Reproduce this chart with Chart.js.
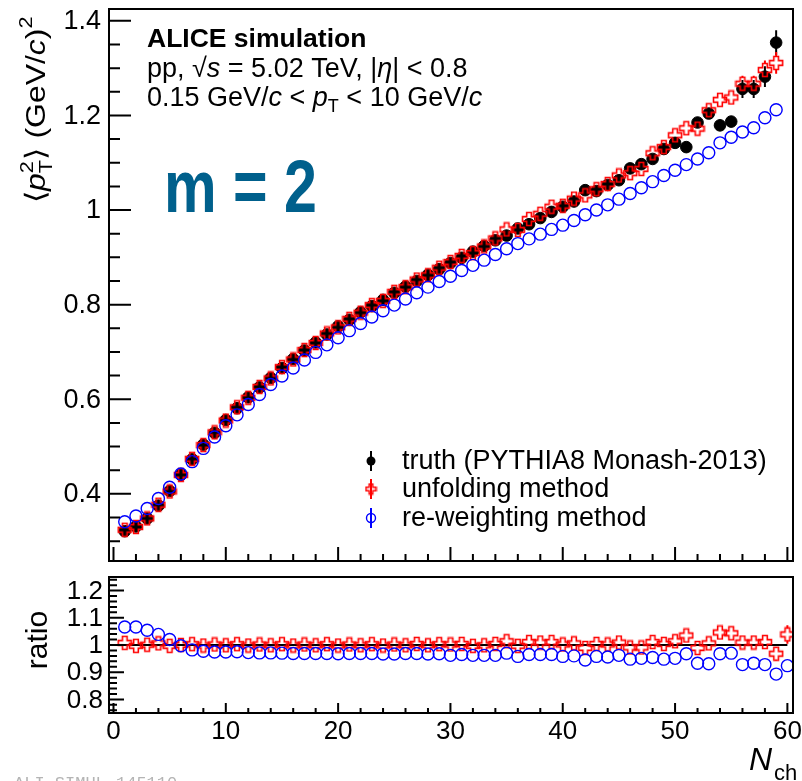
<!DOCTYPE html>
<html>
<head>
<meta charset="utf-8">
<script src="https://cdn.jsdelivr.net/npm/chart.js@4.4.1/dist/chart.umd.min.js"></script>
<style>
    body { margin: 0; background: #fff; }
    #wrap { position: relative; width: 802px; height: 781px; overflow: hidden; background: #fff; }
    #top { position: absolute; left: 0; top: 0; }
    #bot { position: absolute; left: 0; top: 568px; }
</style>
</head>
<body>
<div id="wrap">
    <canvas id="top" width="802" height="570"></canvas>
    <canvas id="bot" width="802" height="213"></canvas>
</div>
<script>
'use strict';

// multiplicity bins
var nch = [1, 2, 3, 4, 5, 6, 7, 8, 9, 10,
    11, 12, 13, 14, 15, 16, 17, 18, 19, 20,
    21, 22, 23, 24, 25, 26, 27, 28, 29, 30,
    31, 32, 33, 34, 35, 36, 37, 38, 39, 40,
    41, 42, 43, 44, 45, 46, 47, 48, 49, 50,
    51, 52, 53, 54, 55, 56, 57, 58, 59, 60];

// <pT^2> per Nch, top panel (bins 1..59)
var truth = [0.321, 0.331, 0.348, 0.375, 0.406, 0.440, 0.473, 0.504, 0.529, 0.556,
    0.581, 0.604, 0.625, 0.645, 0.666, 0.685, 0.703, 0.720, 0.737, 0.754,
    0.768, 0.784, 0.797, 0.810, 0.825, 0.838, 0.850, 0.863, 0.875, 0.888,
    0.899, 0.912, 0.924, 0.936, 0.946, 0.961, 0.970, 0.983, 0.996, 1.007,
    1.018, 1.042, 1.040, 1.053, 1.063, 1.088, 1.097, 1.108, 1.129, 1.142,
    1.133, 1.185, 1.204, 1.179, 1.187, 1.256, 1.256, 1.282, 1.354];
var truthErr = [0.004, 0.004, 0.004, 0.004, 0.004, 0.004, 0.004, 0.004, 0.004, 0.004,
    0.004, 0.004, 0.004, 0.004, 0.004, 0.004, 0.004, 0.004, 0.004, 0.004,
    0.004, 0.004, 0.004, 0.004, 0.004, 0.004, 0.004, 0.004, 0.004, 0.004,
    0.004, 0.004, 0.004, 0.004, 0.004, 0.004, 0.004, 0.004, 0.004, 0.004,
    0.006, 0.006, 0.007, 0.007, 0.007, 0.008, 0.008, 0.008, 0.009, 0.009,
    0.010, 0.010, 0.011, 0.012, 0.012, 0.019, 0.019, 0.022, 0.026];

var unfold = [0.324, 0.330, 0.348, 0.377, 0.405, 0.440, 0.474, 0.503, 0.530, 0.555,
    0.583, 0.603, 0.626, 0.644, 0.668, 0.684, 0.704, 0.719, 0.739, 0.752,
    0.770, 0.783, 0.799, 0.808, 0.827, 0.837, 0.853, 0.862, 0.878, 0.890,
    0.903, 0.909, 0.923, 0.940, 0.959, 0.958, 0.981, 0.992, 1.007, 1.009,
    1.024, 1.031, 1.044, 1.055, 1.073, 1.078, 1.087, 1.120, 1.133, 1.158,
    1.173, 1.172, 1.211, 1.233, 1.238, 1.267, 1.267, 1.296, 1.311];
var unfoldErr = [0.004, 0.004, 0.004, 0.004, 0.004, 0.004, 0.004, 0.004, 0.004, 0.004,
    0.004, 0.004, 0.004, 0.004, 0.004, 0.004, 0.004, 0.004, 0.004, 0.004,
    0.004, 0.004, 0.004, 0.004, 0.004, 0.004, 0.004, 0.004, 0.004, 0.004,
    0.004, 0.004, 0.004, 0.004, 0.004, 0.004, 0.004, 0.004, 0.004, 0.004,
    0.006, 0.006, 0.007, 0.007, 0.007, 0.008, 0.008, 0.008, 0.009, 0.009,
    0.010, 0.010, 0.011, 0.012, 0.012, 0.017, 0.017, 0.020, 0.023];

var reweight = [0.341, 0.353, 0.369, 0.390, 0.414, 0.442, 0.468, 0.496, 0.520, 0.544,
    0.567, 0.589, 0.610, 0.631, 0.649, 0.666, 0.683, 0.699, 0.715, 0.730,
    0.745, 0.760, 0.774, 0.787, 0.799, 0.812, 0.825, 0.837, 0.849, 0.860,
    0.872, 0.883, 0.894, 0.906, 0.918, 0.929, 0.939, 0.949, 0.959, 0.968,
    0.978, 0.990, 1.000, 1.011, 1.023, 1.035, 1.047, 1.060, 1.073, 1.084,
    1.096, 1.108, 1.121, 1.142, 1.154, 1.165, 1.174, 1.195, 1.212];
var reweightErr = [0.003, 0.003, 0.003, 0.003, 0.003, 0.003, 0.003, 0.003, 0.003, 0.003,
    0.003, 0.003, 0.003, 0.003, 0.003, 0.003, 0.003, 0.003, 0.003, 0.003,
    0.003, 0.003, 0.003, 0.003, 0.003, 0.003, 0.003, 0.003, 0.003, 0.003,
    0.003, 0.003, 0.003, 0.003, 0.003, 0.003, 0.003, 0.003, 0.003, 0.003,
    0.004, 0.004, 0.004, 0.004, 0.004, 0.004, 0.004, 0.004, 0.004, 0.004,
    0.005, 0.005, 0.005, 0.005, 0.005, 0.006, 0.006, 0.006, 0.006];

// ratio to truth, bottom panel (bins 1..60)
var ratioUnfold = [1.008, 0.997, 1.001, 1.006, 0.997, 1.000, 1.003, 0.998, 1.002, 0.999,
    1.003, 0.998, 1.002, 0.999, 1.003, 0.998, 1.002, 0.999, 1.003, 0.998,
    1.002, 0.999, 1.003, 0.998, 1.002, 0.999, 1.004, 0.999, 1.003, 1.002,
    1.004, 0.997, 0.999, 1.004, 1.014, 0.997, 1.011, 1.009, 1.011, 1.002,
    1.006, 0.989, 1.004, 1.002, 1.009, 0.991, 0.991, 1.011, 1.004, 1.014,
    1.035, 0.989, 1.006, 1.046, 1.043, 1.009, 1.009, 1.011, 0.968, 1.039];
var ratioUnfoldErr = [0.004, 0.004, 0.004, 0.004, 0.004, 0.004, 0.004, 0.004, 0.004, 0.004,
    0.004, 0.004, 0.004, 0.004, 0.004, 0.004, 0.004, 0.004, 0.004, 0.004,
    0.004, 0.004, 0.004, 0.004, 0.004, 0.004, 0.004, 0.004, 0.004, 0.004,
    0.004, 0.004, 0.004, 0.004, 0.004, 0.004, 0.004, 0.004, 0.004, 0.004,
    0.008, 0.008, 0.008, 0.008, 0.008, 0.008, 0.008, 0.008, 0.008, 0.008,
    0.012, 0.012, 0.012, 0.012, 0.012, 0.016, 0.016, 0.020, 0.025, 0.034];

var ratioReweight = [1.066, 1.066, 1.054, 1.039, 1.020, 0.997, 0.982, 0.977, 0.974, 0.974,
    0.975, 0.972, 0.971, 0.971, 0.970, 0.969, 0.969, 0.969, 0.969, 0.968,
    0.969, 0.969, 0.969, 0.967, 0.967, 0.969, 0.969, 0.967, 0.968, 0.962,
    0.965, 0.962, 0.962, 0.962, 0.970, 0.958, 0.965, 0.965, 0.965, 0.958,
    0.960, 0.945, 0.958, 0.956, 0.962, 0.948, 0.951, 0.954, 0.948, 0.951,
    0.968, 0.933, 0.931, 0.968, 0.970, 0.928, 0.933, 0.928, 0.893, 0.924];
var ratioReweightErr = [0.003, 0.003, 0.003, 0.003, 0.003, 0.003, 0.003, 0.003, 0.003, 0.003,
    0.003, 0.003, 0.003, 0.003, 0.003, 0.003, 0.003, 0.003, 0.003, 0.003,
    0.003, 0.003, 0.003, 0.003, 0.003, 0.003, 0.003, 0.003, 0.003, 0.003,
    0.003, 0.003, 0.003, 0.003, 0.003, 0.003, 0.003, 0.003, 0.003, 0.003,
    0.005, 0.005, 0.005, 0.005, 0.005, 0.005, 0.005, 0.005, 0.005, 0.005,
    0.007, 0.007, 0.007, 0.007, 0.007, 0.008, 0.008, 0.008, 0.009, 0.010];

// axis ticks
var xTicks = [0, 10, 20, 30, 40, 50, 60];
var yTicksTop = [0.4, 0.6, 0.8, 1.0, 1.2, 1.4];
var yTickLabelsTop = ['0.4', '0.6', '0.8', '1', '1.2', '1.4'];
var yTicksRatio = [0.8, 0.9, 1.0, 1.1, 1.2];
var yTickLabelsRatio = ['0.8', '0.9', '1', '1.1', '1.2'];

var legendLabels = ['truth (PYTHIA8 Monash-2013)', 'unfolding method', 're-weighting method'];

var SANS = '"Liberation Sans", Arial, Helvetica, sans-serif';
var RED = '#ff0000';
var BLUE = '#0000ff';
var BOT_TOP = 568;

function pairs(xs, ys) {
    var out = [];
    for (var i = 0; i < ys.length; i++) {
        out.push({x: xs[i], y: ys[i]});
    }
    return out;
}

// ROOT-like open cross marker
function makeCross(size, color) {
    var c = document.createElement('canvas');
    c.width = size;
    c.height = size;
    var g = c.getContext('2d');
    var m = size / 2, h = size / 2 - 1.5, w = h * 0.36;
    g.translate(m, m);
    g.strokeStyle = color;
    g.lineWidth = 1.6;
    g.beginPath();
    g.moveTo(-w, -h); g.lineTo(w, -h); g.lineTo(w, -w); g.lineTo(h, -w);
    g.lineTo(h, w); g.lineTo(w, w); g.lineTo(w, h); g.lineTo(-w, h);
    g.lineTo(-w, w); g.lineTo(-h, w); g.lineTo(-h, -w); g.lineTo(-w, -w);
    g.closePath();
    g.stroke();
    return c;
}

var crossImg = makeCross(16, RED);
var crossSmall = makeCross(13, RED);

function richText(ctx, x, y, parts) {
    // parts: [text, font, dy, noAdvance]
    var cx = x;
    parts.forEach(function (p) {
        ctx.font = p[1];
        ctx.fillText(p[0], cx, y + (p[2] || 0));
        if (!p[3]) cx += ctx.measureText(p[0]).width;
    });
    return cx - x;
}

function richWidth(ctx, parts) {
    var w = 0;
    parts.forEach(function (p) {
        ctx.font = p[1];
        if (!p[3]) w += ctx.measureText(p[0]).width;
    });
    return w;
}

// vertical error bars, only the part sticking out of the marker
var errorBars = {
    id: 'errorBars',
    beforeDatasetsDraw: function (chart) {
        var ctx = chart.ctx, area = chart.chartArea;
        var xs = chart.scales.x, ys = chart.scales.y;
        ctx.save();
        ctx.beginPath();
        ctx.rect(area.left, area.top, area.right - area.left, area.bottom - area.top);
        ctx.clip();
        ctx.lineWidth = 2;
        chart.data.datasets.forEach(function (ds) {
            if (!ds.errors) return;
            var gap = ds.errGap;
            ctx.strokeStyle = ds.errColor;
            ctx.beginPath();
            ds.data.forEach(function (p, i) {
                var px = xs.getPixelForValue(p.x);
                var py = ys.getPixelForValue(p.y);
                var lo = ys.getPixelForValue(p.y - ds.errors[i]);
                var hi = ys.getPixelForValue(p.y + ds.errors[i]);
                if (lo - py > gap) {
                    ctx.moveTo(px, py + gap);
                    ctx.lineTo(px, lo);
                }
                if (py - hi > gap) {
                    ctx.moveTo(px, py - gap);
                    ctx.lineTo(px, hi);
                }
            });
            ctx.stroke();
        });
        ctx.restore();
    }
};

// frame, inward ticks and tick labels
var rootAxes = {
    id: 'rootAxes',
    afterDraw: function (chart, args, opts) {
        var ctx = chart.ctx, area = chart.chartArea;
        var xs = chart.scales.x, ys = chart.scales.y;
        var i, v, px, py, len;
        ctx.save();
        ctx.strokeStyle = '#000';
        ctx.lineWidth = 2;
        ctx.strokeRect(area.left, area.top, area.right - area.left, area.bottom - area.top);

        ctx.beginPath();
        for (v = 0; v <= 60; v += 2) {
            px = xs.getPixelForValue(v);
            len = v % 10 === 0 ? opts.xMajor : opts.xMinor;
            ctx.moveTo(px, area.bottom);
            ctx.lineTo(px, area.bottom - len);
        }
        for (i = opts.yFrom; i <= opts.yTo; i++) {
            py = ys.getPixelForValue(i * opts.yStep);
            len = i % opts.yEvery === 0 ? opts.yMajor : opts.yMinor;
            ctx.moveTo(area.left, py);
            ctx.lineTo(area.left + len, py);
        }
        ctx.stroke();

        ctx.fillStyle = '#000';
        ctx.font = opts.yFont + 'px ' + SANS;
        ctx.textAlign = 'right';
        ctx.textBaseline = 'middle';
        opts.yTicks.forEach(function (t, k) {
            ctx.fillText(opts.yLabels[k], opts.yLabelX, ys.getPixelForValue(t) + 1);
        });

        if (opts.xLabels) {
            ctx.font = '26px ' + SANS;
            ctx.textAlign = 'center';
            xTicks.forEach(function (t) {
                ctx.fillText(String(t), xs.getPixelForValue(t), 732 - BOT_TOP);
            });
        }
        ctx.restore();
    }
};

var topText = {
    id: 'topText',
    afterDraw: function (chart) {
        var ctx = chart.ctx;
        var it = 'italic 27px ' + SANS, rm = '27px ' + SANS;
        ctx.save();
        ctx.fillStyle = '#000';
        ctx.textBaseline = 'alphabetic';
        ctx.textAlign = 'left';

        ctx.font = 'bold 26.5px ' + SANS;
        ctx.fillText('ALICE simulation', 147, 47);
        richText(ctx, 147, 77, [
            ['pp, ', rm], ['\u221A', rm], ['s', it], [' = 5.02 TeV, |', rm],
            ['\u03B7', it], ['| < 0.8', rm]
        ]);
        richText(ctx, 147, 106, [
            ['0.15 GeV/', rm], ['c', it], [' < ', rm], ['p', it],
            ['T', '18px ' + SANS, 6], [' < 10 GeV/', rm], ['c', it]
        ]);

        // y title, rotated and a little stretched along the text
        var t = '28px ' + SANS, ti = 'italic 28px ' + SANS, sm = '19px ' + SANS;
        var title = [
            ['\u27E8', t], ['p', ti], ['2', sm, -12, true], ['T', sm, 7], ['\u27E9', t],
            [' (GeV/', t], ['c', ti], [')', t], ['2', sm, -13]
        ];
        ctx.save();
        var stretch = 1.14;
        var tw = richWidth(ctx, title) * stretch;
        ctx.translate(45, 110 + tw / 2);
        ctx.rotate(-Math.PI / 2);
        ctx.scale(stretch, 1);
        richText(ctx, 0, 0, title);
        ctx.restore();

        // m = 2 tag
        ctx.save();
        ctx.fillStyle = '#00608c';
        ctx.font = 'bold 74px ' + SANS;
        ctx.translate(164, 212);
        ctx.scale(0.8, 1);
        ctx.fillText('m = 2', 0, 0);
        ctx.restore();

        // legend
        var rows = [461, 489, 518];
        ctx.lineWidth = 2;
        ctx.strokeStyle = '#000';
        ctx.beginPath(); ctx.moveTo(371, rows[0] - 10); ctx.lineTo(371, rows[0] + 10); ctx.stroke();
        ctx.beginPath(); ctx.arc(371, rows[0], 4.5, 0, Math.PI * 2); ctx.fill();
        ctx.strokeStyle = RED;
        ctx.beginPath(); ctx.moveTo(371, rows[1] - 10); ctx.lineTo(371, rows[1] + 10); ctx.stroke();
        ctx.drawImage(crossSmall, 371 - 6.5, rows[1] - 6.5);
        ctx.strokeStyle = BLUE;
        ctx.beginPath(); ctx.moveTo(371, rows[2] - 10); ctx.lineTo(371, rows[2] + 10); ctx.stroke();
        ctx.lineWidth = 1.4;
        ctx.beginPath(); ctx.arc(371, rows[2], 4.5, 0, Math.PI * 2); ctx.stroke();

        ctx.font = '27px ' + SANS;
        ctx.textBaseline = 'middle';
        legendLabels.forEach(function (s, k) {
            ctx.fillText(s, 402, rows[k] + 1);
        });
        ctx.restore();
    }
};

var botText = {
    id: 'botText',
    afterDraw: function (chart) {
        var ctx = chart.ctx;
        ctx.save();
        ctx.translate(0, -BOT_TOP);
        ctx.fillStyle = '#000';
        ctx.textBaseline = 'alphabetic';
        ctx.textAlign = 'left';

        ctx.font = 'italic 32px ' + SANS;
        ctx.fillText('N', 749, 770);
        ctx.font = '22px ' + SANS;
        ctx.fillText('ch', 774, 780);

        ctx.save();
        ctx.font = '30px ' + SANS;
        var w = ctx.measureText('ratio').width;
        ctx.translate(47, 640 + w / 2);
        ctx.rotate(-Math.PI / 2);
        ctx.fillText('ratio', 0, 0);
        ctx.restore();

        ctx.fillStyle = '#b4b4b4';
        ctx.font = '17px "Liberation Mono", monospace';
        ctx.fillText('ALI-SIMUL-145110', 14, 788);
        ctx.restore();
    }
};

var baseOptions = function (padding, yMin, yMax, axes) {
    return {
        responsive: false,
        animation: false,
        devicePixelRatio: 1,
        layout: {padding: padding},
        scales: {
            x: {type: 'linear', min: -0.4, max: 60.5, display: false},
            y: {type: 'linear', min: yMin, max: yMax, display: false}
        },
        plugins: {
            legend: {display: false},
            tooltip: {enabled: false},
            rootAxes: axes
        }
    };
};

new Chart(document.getElementById('top'), {
    type: 'scatter',
    data: {
        datasets: [{
            label: legendLabels[0],
            data: pairs(nch, truth),
            errors: truthErr,
            errColor: '#000',
            errGap: 5,
            pointStyle: 'circle',
            pointRadius: 5.8,
            backgroundColor: '#000',
            borderColor: '#000',
            borderWidth: 1,
            order: 3
        }, {
            label: legendLabels[1],
            data: pairs(nch, unfold),
            errors: unfoldErr,
            errColor: RED,
            errGap: 6,
            pointStyle: crossImg,
            pointRadius: 8,
            order: 2
        }, {
            label: legendLabels[2],
            data: pairs(nch, reweight),
            errors: reweightErr,
            errColor: BLUE,
            errGap: 6,
            pointStyle: 'circle',
            pointRadius: 6,
            backgroundColor: 'rgba(0,0,0,0)',
            borderColor: BLUE,
            borderWidth: 1.4,
            order: 1
        }]
    },
    options: baseOptions({left: 109, right: 6, top: 8, bottom: 2}, 0.258, 1.425, {
        xMajor: 14, xMinor: 7,
        yFrom: 6, yTo: 28, yStep: 0.05, yEvery: 4, yMajor: 22, yMinor: 11,
        yTicks: yTicksTop, yLabels: yTickLabelsTop, yLabelX: 101, yFont: 27,
        xLabels: false
    }),
    plugins: [errorBars, rootAxes, topText]
});

new Chart(document.getElementById('bot'), {
    type: 'scatter',
    data: {
        datasets: [{
            label: 'unity',
            type: 'line',
            data: [{x: 0.5, y: 1}, {x: 60, y: 1}],
            borderColor: '#000',
            borderWidth: 2,
            pointRadius: 0,
            order: 3
        }, {
            label: legendLabels[1],
            data: pairs(nch, ratioUnfold),
            errors: ratioUnfoldErr,
            errColor: RED,
            errGap: 6,
            pointStyle: crossImg,
            pointRadius: 8,
            order: 2
        }, {
            label: legendLabels[2],
            data: pairs(nch, ratioReweight),
            errors: ratioReweightErr,
            errColor: BLUE,
            errGap: 6,
            pointStyle: 'circle',
            pointRadius: 6,
            backgroundColor: 'rgba(0,0,0,0)',
            borderColor: BLUE,
            borderWidth: 1.4,
            order: 1
        }]
    },
    options: baseOptions({left: 109, right: 6, top: 0, bottom: 68}, 0.75, 1.25, {
        xMajor: 10, xMinor: 5,
        yFrom: 38, yTo: 62, yStep: 0.02, yEvery: 5, yMajor: 15, yMinor: 8,
        yTicks: yTicksRatio, yLabels: yTickLabelsRatio, yLabelX: 103, yFont: 26,
        xLabels: true
    }),
    plugins: [errorBars, rootAxes, botText]
});
</script>
</body>
</html>
